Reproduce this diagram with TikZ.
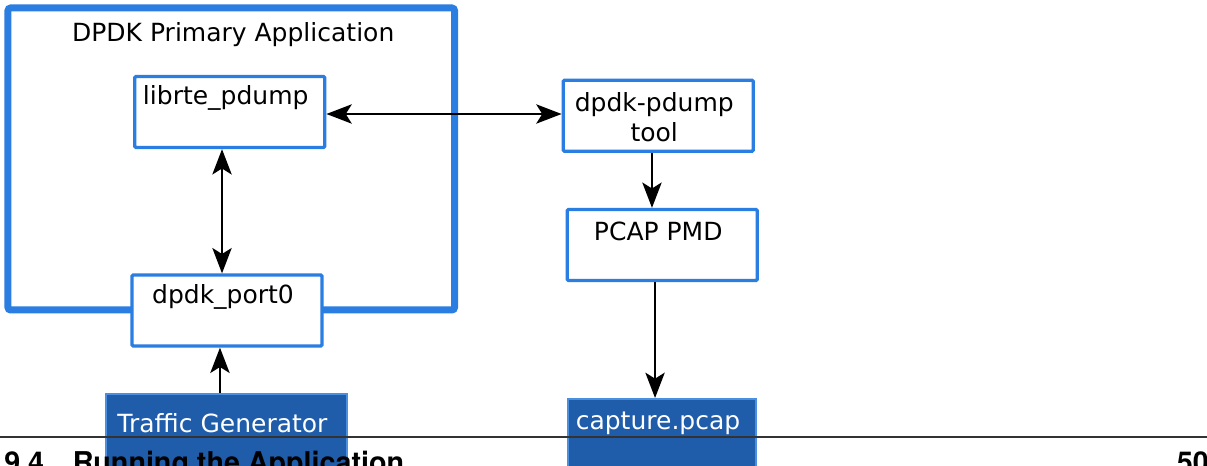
\documentclass[tikz,border=0pt]{standalone}
\usepackage{fontspec}
\setmainfont{DejaVu Sans}
\newfontfamily\headfont{TeX Gyre Heros}
\usetikzlibrary{arrows.meta}
\definecolor{boxblue}{HTML}{2A7DE1}
\definecolor{fillblue}{HTML}{1F5DAB}
\definecolor{edgeblue}{HTML}{4A8FE0}
\tikzset{
  blk/.style={draw=boxblue, line width=2.5pt, fill=white, rounded corners=1pt,
    minimum width=142.5pt, minimum height=53.25pt, inner sep=0pt},
  sink/.style={draw=edgeblue, line width=1.2pt, fill=fillblue, inner sep=0pt,
    minimum height=75pt, anchor=north},
  lbl/.style={anchor=north, inner sep=0pt, yshift=-7.5pt, xshift=-3pt, align=center,
    font=\fontsize{18.75}{22.5}\selectfont},
  flow/.style={line width=1.5pt, -{Stealth[length=19pt,width=14.5pt,inset=4.5pt]}},
  both/.style={line width=1.5pt, {Stealth[length=19pt,width=14.5pt,inset=4.5pt]}-{Stealth[length=19pt,width=14.5pt,inset=4.5pt]}}
}
\begin{document}
\begin{tikzpicture}[x=0.75pt,y=-0.75pt]
\useasboundingbox (0,0) rectangle (1207,466);
\node[draw=boxblue, line width=5.25pt, rounded corners=2pt, minimum width=334.9pt, minimum height=226.5pt,
  label={[lbl,yshift=-6pt,xshift=4.5pt]north:DPDK Primary Application}] (app) at (231.25,159) {};
\node[blk, label={[lbl]north:librte\_pdump}] (lib) at (229.75,112) {};
\node[blk, label={[lbl,yshift=-0.75pt]north:dpdk\_port0}] (port) at (227,310.5) {};
\node[blk, label={[lbl,yshift=-3pt]north:dpdk-pdump\\tool}] (tool) at (658.25,115.75) {};
\node[blk, label={[lbl,yshift=-3pt]north:PCAP PMD}] (pmd) at (662.25,245) {};
\node[sink, minimum width=180.75pt, label={[lbl,text=white,yshift=-7.5pt]north:Traffic Generator}] (gen) at (226.5,393) {};
\node[sink, minimum width=141pt, label={[lbl,text=white,yshift=-3pt]north:capture.pcap}] (cap) at (662,398) {};
\draw[both] ([yshift=-1.5pt]lib.east) -- ([yshift=-1.5pt]lib.east -| tool.west);
\draw[both] ([xshift=-5.8pt]lib.south) -- ([xshift=-5.8pt]lib.south |- port.north);
\draw[flow] ([xshift=-4.9pt]gen.north) -- ([xshift=-4.9pt]gen.north |- port.south);
\draw[flow] ([xshift=-4.7pt]tool.south) -- ([xshift=-4.7pt]tool.south |- pmd.north);
\draw[flow] ([xshift=-5.4pt]pmd.south) -- ([xshift=-5.4pt]pmd.south |- cap.north);
\draw[line width=1.1pt, black!80] (0,437) -- (1207,437);
\node[anchor=base west, inner sep=0pt, font=\headfont\bfseries\fontsize{21.5}{24}\selectfont] (sec) at (4,473) {9.4\quad Running the Application};
\node[anchor=base east, inner sep=0pt, font=\headfont\bfseries\fontsize{21.5}{24}\selectfont] (page) at (1209,473) {50};
\end{tikzpicture}
\end{document}
